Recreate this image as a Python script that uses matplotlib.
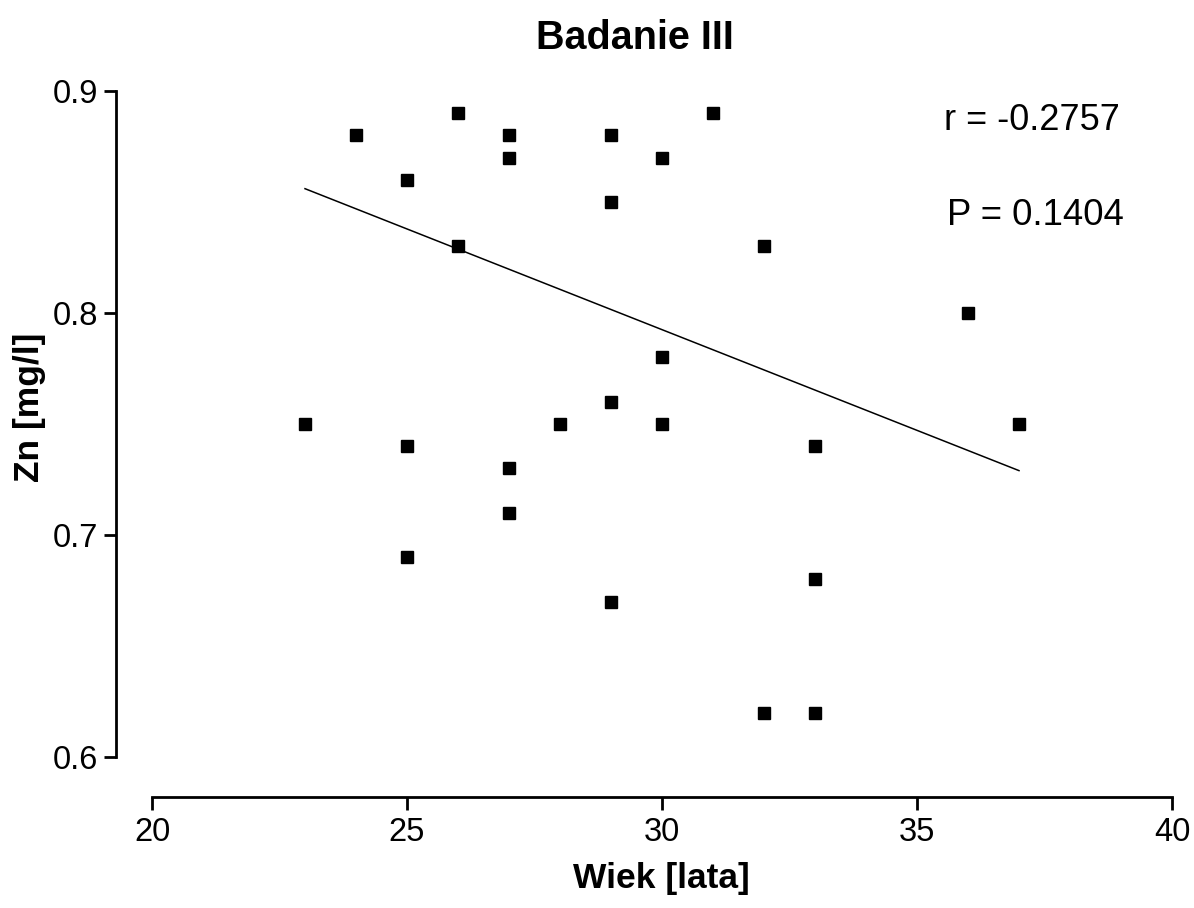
import numpy as np
import matplotlib
matplotlib.use('Agg')
import matplotlib.pyplot as plt

plt.rcParams['font.family'] = ['Liberation Sans', 'DejaVu Sans']

# wiek [lata] vs Zn [mg/l]
wiek = [23, 24, 25, 25, 25, 26, 26, 27, 27, 27, 27, 28, 29, 29, 29, 29,
        30, 30, 30, 31, 32, 32, 33, 33, 33, 36, 37]
zn = [0.75, 0.88, 0.86, 0.74, 0.69, 0.89, 0.83, 0.88, 0.87, 0.73, 0.71, 0.75,
      0.88, 0.85, 0.76, 0.67, 0.87, 0.78, 0.75, 0.89, 0.83, 0.62, 0.74, 0.68,
      0.62, 0.80, 0.75]
# regression line as drawn in the original (some points overlap)
fit_x = [23, 37]
fit_y = [0.856, 0.729]
r_txt = 'r = -0.2757'
p_txt = 'P = 0.1404'

fig = plt.figure(figsize=(11.94, 9.08), dpi=100)
ax = fig.add_axes([152/1194, 151/908, 1020/1194, 666/908])

ax.plot(fit_x, fit_y, color='black', lw=1.1)
ax.plot(wiek, zn, 's', color='black', markersize=9, clip_on=False)

ax.set_xlim(20, 40)
ax.set_ylim(0.6, 0.9)
ax.set_xticks([20, 25, 30, 35, 40])
ax.set_yticks([0.6, 0.7, 0.8, 0.9])
ax.set_yticklabels(['0.6', '0.7', '0.8', '0.9'])

for s in ['top', 'right']:
    ax.spines[s].set_visible(False)
ax.spines['left'].set_position(('outward', 26))
ax.spines['bottom'].set_position(('outward', 29))
for s in ['left', 'bottom']:
    ax.spines[s].set_linewidth(2)
ax.tick_params(direction='out', length=9, width=2, labelsize=23.5)
ax.tick_params(axis='y', pad=4)
ax.tick_params(axis='x', pad=5)

ax.text(37.25, 0.8824, r_txt, ha='center', va='baseline', fontsize=26)
ax.text(37.33, 0.8396, p_txt, ha='center', va='baseline', fontsize=26.3)

fig.text(635/1194, 1 - 49/908, 'Badanie III', ha='center', va='baseline',
         fontsize=28.5, fontweight='bold')
fig.text(661/1194, 1 - 888/908, 'Wiek [lata]', ha='center', va='baseline',
         fontsize=25.5, fontweight='bold')
fig.text(30/1194, 1 - 407/908, 'Zn [mg/l]', ha='center', va='center',
         rotation=90, fontsize=25.5, fontweight='bold')

fig.savefig('out.png', dpi=100)
